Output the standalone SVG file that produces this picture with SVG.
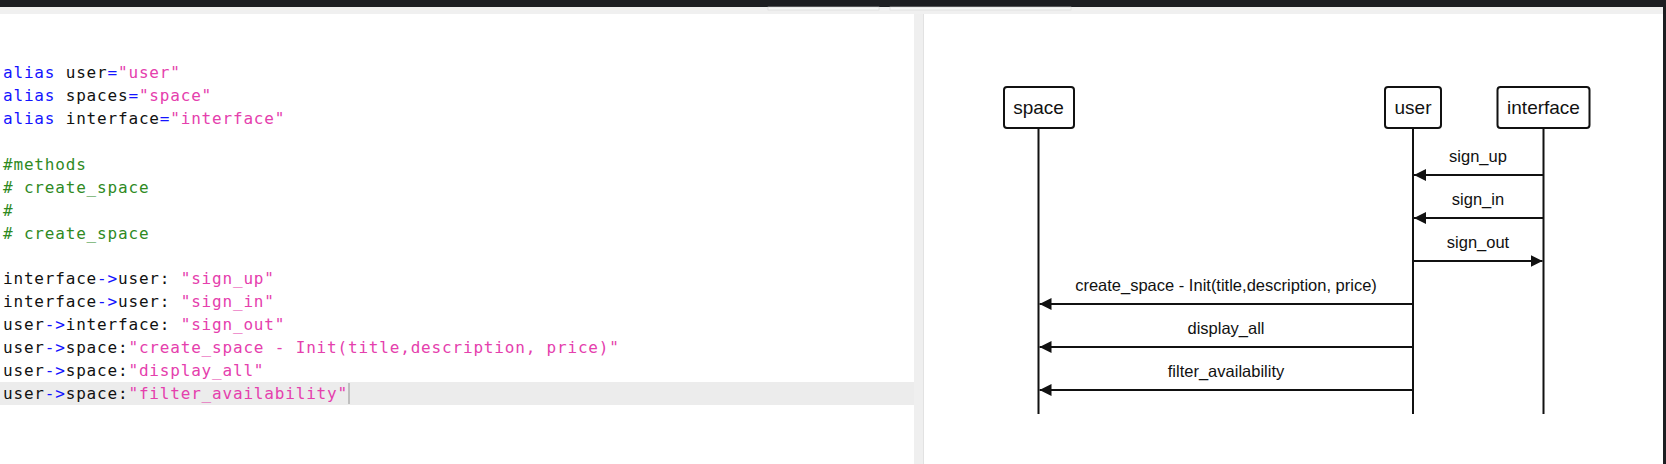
<svg xmlns="http://www.w3.org/2000/svg" width="1666" height="464" viewBox="0 0 1666 464">
  <style>
    .code { font-family: "DejaVu Sans Mono", "Liberation Mono", monospace; font-size: 16px; letter-spacing: 0.82px; white-space: pre; fill: #111; }
    .kw { fill: #1414ff; }
    .str { fill: #e540ad; }
    .cm { fill: #2f8a1f; }
    .box { fill: #fff; stroke: #111; stroke-width: 2; }
    .life { stroke: #111; stroke-width: 2; fill: none; }
    .msg { stroke: #111; stroke-width: 2; fill: none; marker-end: url(#ah); }
    .blabel { font-family: "Liberation Sans", Arial, sans-serif; font-size: 19px; fill: #111; text-anchor: middle; }
    .mlabel { font-family: "Liberation Sans", Arial, sans-serif; font-size: 16.5px; fill: #111; text-anchor: middle; }
  </style>
  <defs>
    <marker id="ah" viewBox="0 0 12 12" refX="12" refY="6" markerWidth="12" markerHeight="12" markerUnits="userSpaceOnUse" orient="auto">
      <path d="M0,0 L12,6 L0,12 z" fill="#111"/>
    </marker>
  </defs>

  <!-- window chrome -->
  <rect x="0" y="0" width="1666" height="464" fill="#ffffff"/>
  <rect x="0" y="0" width="1666" height="7" fill="#1d1e22"/>
  <rect x="0" y="7" width="1666" height="7" fill="#f0f0f0"/>
  <rect x="768" y="7" width="111" height="3" fill="#f7f7f7" stroke="#d8d8d8" stroke-width="0.6"/>
  <rect x="890" y="7" width="181" height="3" fill="#f7f7f7" stroke="#d8d8d8" stroke-width="0.6"/>
  <rect x="914" y="14" width="10" height="450" fill="#efefef"/>
  <line x1="923.5" y1="14" x2="923.5" y2="464" stroke="#e2e2e2" stroke-width="1"/>
  <rect x="1663" y="0" width="3" height="464" fill="#1d1e22"/>

  <!-- editor -->
  <g id="editor">
    <rect x="0" y="382" width="914" height="23" fill="#ececec"/>
    <line x1="349" y1="383" x2="349" y2="404" stroke="#b0b0b0" stroke-width="1.5"/>
    <text class="code" x="3" y="78"><tspan class="kw">alias</tspan> user<tspan class="kw">=</tspan><tspan class="str">"user"</tspan></text>
    <text class="code" x="3" y="100.9"><tspan class="kw">alias</tspan> spaces<tspan class="kw">=</tspan><tspan class="str">"space"</tspan></text>
    <text class="code" x="3" y="123.9"><tspan class="kw">alias</tspan> interface<tspan class="kw">=</tspan><tspan class="str">"interface"</tspan></text>
    <text class="code cm" x="3" y="169.7">#methods</text>
    <text class="code cm" x="3" y="192.7"># create_space</text>
    <text class="code cm" x="3" y="215.6">#</text>
    <text class="code cm" x="3" y="238.5"># create_space</text>
    <text class="code" x="3" y="284.4">interface<tspan class="kw">-&gt;</tspan>user: <tspan class="str">"sign_up"</tspan></text>
    <text class="code" x="3" y="307.3">interface<tspan class="kw">-&gt;</tspan>user: <tspan class="str">"sign_in"</tspan></text>
    <text class="code" x="3" y="330.2">user<tspan class="kw">-&gt;</tspan>interface: <tspan class="str">"sign_out"</tspan></text>
    <text class="code" x="3" y="353.2">user<tspan class="kw">-&gt;</tspan>space:<tspan class="str">"create_space - Init(title,description, price)"</tspan></text>
    <text class="code" x="3" y="376.1">user<tspan class="kw">-&gt;</tspan>space:<tspan class="str">"display_all"</tspan></text>
    <text class="code" x="3" y="399">user<tspan class="kw">-&gt;</tspan>space:<tspan class="str">"filter_availability"</tspan></text>
  </g>

  <!-- participants -->
  <g id="space">
    <line class="life" x1="1038.5" y1="128" x2="1038.5" y2="414"/>
    <rect class="box" x="1004" y="87" width="70" height="41" rx="3"/>
    <text class="blabel" x="1038.5" y="114">space</text>
  </g>
  <g id="user">
    <line class="life" x1="1413" y1="128" x2="1413" y2="414"/>
    <rect class="box" x="1385" y="87" width="56" height="41" rx="3"/>
    <text class="blabel" x="1413" y="114">user</text>
  </g>
  <g id="interface">
    <line class="life" x1="1543.5" y1="128" x2="1543.5" y2="414"/>
    <rect class="box" x="1497.5" y="87" width="92" height="41" rx="3"/>
    <text class="blabel" x="1543.5" y="114">interface</text>
  </g>

  <!-- messages -->
  <g id="connectors">
    <line class="msg" x1="1543.5" y1="175" x2="1414" y2="175"/>
    <text class="mlabel" x="1478" y="162">sign_up</text>
    <line class="msg" x1="1543.5" y1="218" x2="1414" y2="218"/>
    <text class="mlabel" x="1478" y="205">sign_in</text>
    <line class="msg" x1="1413" y1="261" x2="1542.5" y2="261"/>
    <text class="mlabel" x="1478" y="248">sign_out</text>
    <line class="msg" x1="1413" y1="304" x2="1039.5" y2="304"/>
    <text class="mlabel" x="1226" y="291">create_space - Init(title,description, price)</text>
    <line class="msg" x1="1413" y1="347" x2="1039.5" y2="347"/>
    <text class="mlabel" x="1226" y="334">display_all</text>
    <line class="msg" x1="1413" y1="390" x2="1039.5" y2="390"/>
    <text class="mlabel" x="1226" y="377">filter_availability</text>
  </g>
</svg>
